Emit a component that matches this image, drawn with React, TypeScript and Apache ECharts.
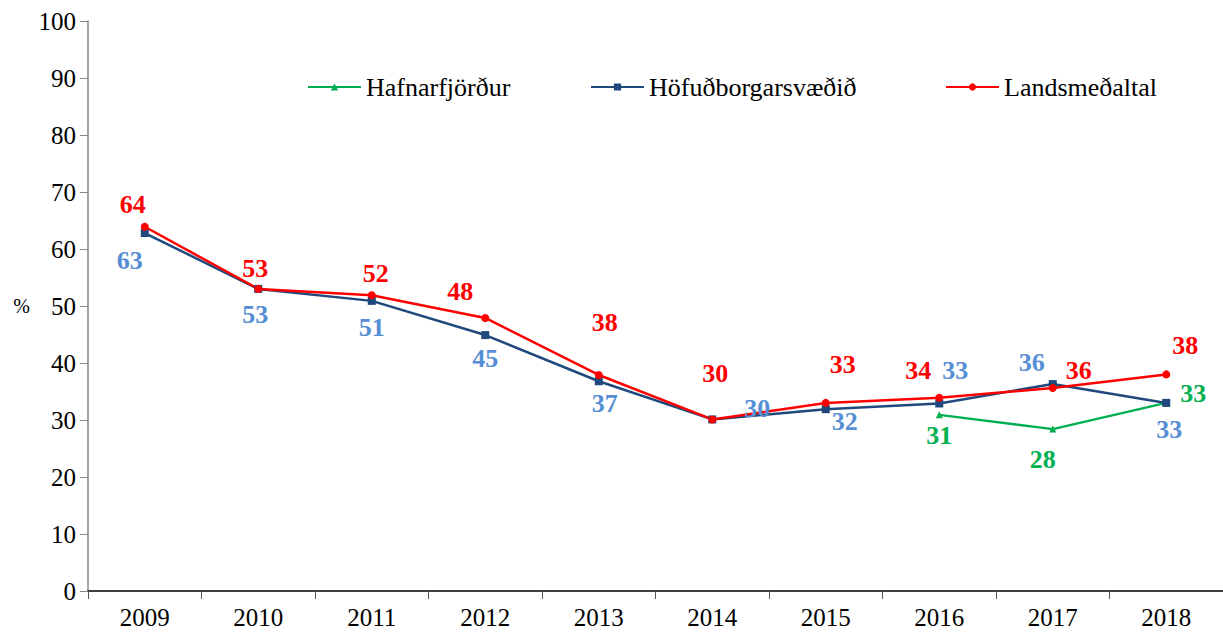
import React, { useEffect, useRef } from "react";
import * as echarts from "echarts";

const years = ["2009", "2010", "2011", "2012", "2013", "2014", "2015", "2016", "2017", "2018"];
const hafnarfjordur = [null, null, null, null, null, null, null, 30.9, 28.4, 33.0];
const hofudborgarsvaedid = [62.8, 53.0, 50.9, 44.9, 36.8, 30.1, 31.9, 32.9, 36.3, 33.0];
const landsmedaltal = [63.9, 53.0, 51.9, 47.9, 37.9, 30.1, 33.0, 33.9, 35.6, 38.0];
const seriesNames = ["Hafnarfjörður", "Höfuðborgarsvæðið", "Landsmeðaltal"];

// label placement (style only)
const redOffsets = [[-12, -22], [-3, -20], [4, -22], [-25, -26], [6, -52], [3, -46], [17, -38], [-21, -27], [26, -18], [19, -29]];
const blueOffsets = [[-15, 27], [-3, 26], [0, 27], [0, 23], [6, 22], [45, -11], [19, 12], [16, -33], [-21, -22], [3, 27]];
const greenOffsets = [[0, 0], [0, 0], [0, 0], [0, 0], [0, 0], [0, 0], [0, 0], [0, 21], [-10, 30], [27, -9]];
const legendLefts = [302, 585, 940];

const FONT = "'Liberation Serif', 'Times New Roman', serif";

function withLabels(values: (number | null)[], offsets: number[][], color: string) {
  return values.map((v, i) =>
    v == null
      ? null
      : {
          value: v,
          label: {
            show: true,
            position: "inside",
            offset: offsets[i],
            color,
            fontFamily: FONT,
            fontWeight: "bold",
            fontSize: 26,
            formatter: (p: any) => String(Math.round(p.value)),
          },
        }
  );
}

export default function App() {
  const ref = useRef<HTMLDivElement>(null);
  useEffect(() => {
    document.body.style.margin = "0";
    const chart = echarts.init(ref.current!, undefined, { renderer: "svg" });
    chart.setOption({
      animation: false,
      backgroundColor: "#ffffff",
      grid: { left: 88, top: 21, width: 1144.5, height: 570 },
      legend: seriesNames.map((n, i) => ({
        left: legendLefts[i],
        top: 69,
        itemWidth: 53,
        itemHeight: 9,
        textStyle: { fontFamily: FONT, fontSize: 26, color: "#000" },
        data: [n],
      })),
      xAxis: {
        type: "category",
        data: years,
        boundaryGap: true,
        axisLine: { lineStyle: { color: "#000", width: 1.5 } },
        axisTick: { show: true, length: 8, inside: false, lineStyle: { color: "#555" } },
        axisLabel: { fontFamily: FONT, fontSize: 25, color: "#000", margin: 14 },
      },
      yAxis: {
        type: "value",
        min: 0,
        max: 100,
        interval: 10,
        name: "%",
        nameLocation: "middle",
        nameRotate: 0,
        nameGap: 58,
        nameTextStyle: { fontFamily: FONT, fontSize: 20, color: "#000", padding: [8, 0, 0, 0] },
        splitLine: { show: false },
        axisLine: { show: true, lineStyle: { color: "#868686", width: 1.5 } },
        axisTick: { show: true, length: 8, lineStyle: { color: "#868686" } },
        axisLabel: { fontFamily: FONT, fontSize: 25, color: "#000", margin: 12 },
      },
      series: [
        {
          name: seriesNames[0],
          type: "line",
          data: withLabels(hafnarfjordur, greenOffsets, "#00B050"),
          symbol: "triangle",
          symbolSize: 7,
          showAllSymbol: true,
          color: "#00B050",
          lineStyle: { color: "#00B050", width: 2.5 },
          itemStyle: { color: "#00B050" },
        },
        {
          name: seriesNames[1],
          type: "line",
          data: withLabels(hofudborgarsvaedid, blueOffsets, "#558ED5"),
          symbol: "rect",
          symbolSize: 8,
          showAllSymbol: true,
          color: "#1F497D",
          lineStyle: { color: "#1F497D", width: 2.5 },
          itemStyle: { color: "#1F497D" },
        },
        {
          name: seriesNames[2],
          type: "line",
          data: withLabels(landsmedaltal, redOffsets, "#FF0000"),
          symbol: "circle",
          symbolSize: 8,
          showAllSymbol: true,
          color: "#FF0000",
          lineStyle: { color: "#FF0000", width: 2.5 },
          itemStyle: { color: "#FF0000" },
        },
      ],
    });
    return () => chart.dispose();
  }, []);
  return <div ref={ref} style={{ width: 1223, height: 632 }} />;
}
